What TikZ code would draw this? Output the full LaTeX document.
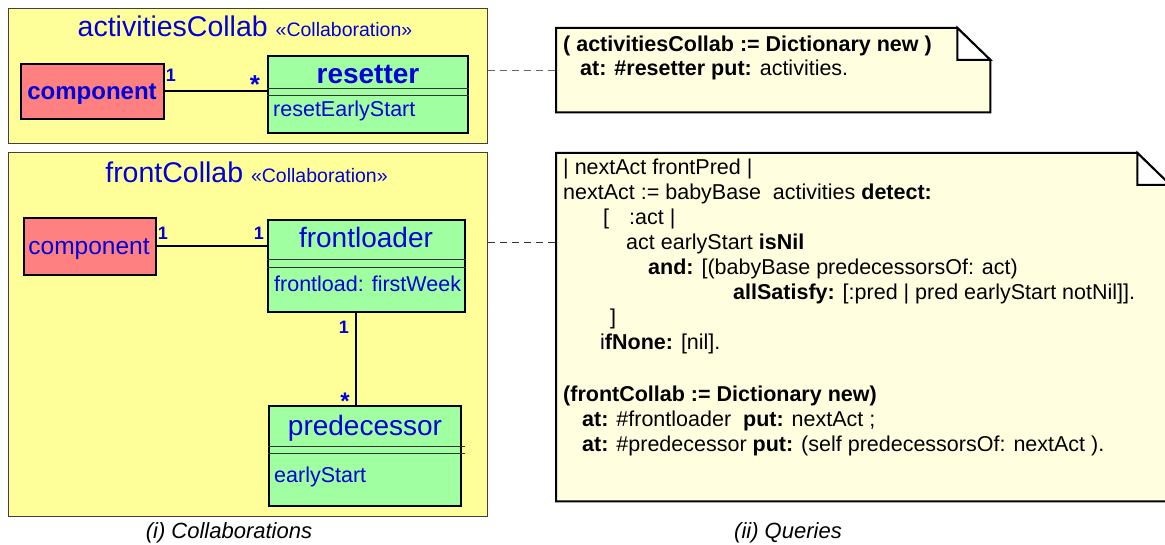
\documentclass[tikz,border=0pt]{standalone}
\usepackage{fontspec}
\setmainfont{Liberation Sans}
\usepackage{xcolor}
\usepackage{tikz}
\definecolor{pkgyellow}{HTML}{FFFF99}
\definecolor{compred}{HTML}{FF8080}
\definecolor{rolegreen}{HTML}{A0FFA0}
\definecolor{noteyellow}{HTML}{FFFFE0}
\definecolor{umlblue}{HTML}{0000D8}
\newcommand\setsz[1]{\fontsize{#1}{#1}\selectfont}
\tikzset{
package/.style={draw=black!75,fill=pkgyellow,line width=1pt,anchor=north west},
compbox/.style={draw=black,fill=compred,line width=2pt,anchor=north west},
rolebox/.style={draw=black,fill=rolegreen,line width=2pt,anchor=north west},
notebox/.style={draw=black,fill=noteyellow,line width=2pt},
sepline/.style={draw=black!80,line width=0.8pt},
pkgtitle/.style={text=umlblue,anchor=base,inner sep=0pt},
rolename/.style={text=umlblue,anchor=base,inner sep=0pt,font=\setsz{28}},
roletext/.style={text=umlblue,anchor=base west,inner sep=0pt,font=\setsz{21.5}},
mult/.style={text=umlblue,inner sep=0pt,font=\setsz{18}\bfseries},
assoc/.style={line width=2pt},
notelink/.style={draw=black!60,line width=1pt,dash pattern=on 7pt off 5pt},
codeline/.style={anchor=base west,inner sep=0pt,font=\setsz{21.5}},
caption/.style={anchor=base,inner sep=0pt,font=\setsz{22}\itshape},
}

\begin{document}
\begin{tikzpicture}[x=1pt,y=-1pt]
\useasboundingbox (0,0) rectangle (1165,545);
\clip (0,0) rectangle (1165,545);
% the collaborations
\node[package,minimum width=479pt,minimum height=135pt] (pkgA) at (8,8) {};
\node[package,minimum width=479pt,minimum height=364pt] (pkgB) at (8,152) {};
\node[pkgtitle] (titleA) at (245,37)
  {\setsz{28.5}activitiesCollab \setsz{19.5}«Collaboration»};
\node[pkgtitle] (titleB) at (246.5,183)
  {\setsz{28.5}frontCollab \setsz{19.5}«Collaboration»};

% activitiesCollab
\node[compbox,minimum width=143pt,minimum height=55pt] (compA) at (20,63) {};
\node[text=umlblue,inner sep=0pt,anchor=base,font=\setsz{24}\bfseries]
  (compAname) at (92,100) {component};
\node[rolebox,minimum width=200pt,minimum height=77pt] (resetter) at (267,55) {};
\node[rolename,font=\setsz{28}\bfseries] (resetterName) at (368,84) {resetter};
\node[roletext] (resetterOp) at (273,117) {resetEarlyStart};
\foreach \y in {33,40}
  \draw[sepline] ([yshift=-\y pt]resetter.north west) -- ([yshift=-\y pt]resetter.north east);

% frontCollab
\node[compbox,minimum width=132pt,minimum height=57pt] (compB) at (23,217) {};
\node[text=umlblue,inner sep=0pt,anchor=base,font=\setsz{24.5}]
  (compBname) at (89,255) {component};
\node[rolebox,minimum width=197pt,minimum height=92pt] (front) at (267,219) {};
\node[rolename] (frontName) at (366,248) {frontloader};
\node[roletext] (frontOp) at (274,292) {frontload: firstWeek};
\foreach \y in {40,48}
  \draw[sepline] ([yshift=-\y pt]front.north west) -- ([yshift=-\y pt]front.north east);
\node[rolebox,minimum width=192pt,minimum height=100pt] (pred) at (268,405) {};
\node[rolename] (predName) at (365,435) {predecessor};
\node[roletext] (predAttr) at (274,482) {earlyStart};
\foreach \y in {41,48}
  \draw[sepline] ([yshift=-\y pt]pred.north west) -- ([xshift=3pt,yshift=-\y pt]pred.north east);

% the associations
\draw[assoc] (compA.east) -- (compA.east -| resetter.west);
\draw[assoc] (compB.east) -- (compB.east -| front.west);
\draw[assoc] ([xshift=-10.5pt]front.south) -- ([xshift=-10.5pt]front.south |- pred.north);
\node[mult] (mA1) at (171,75) {1};
\node[mult,font=\setsz{26}\bfseries] (mA2) at (255,85) {*};
\node[mult] (mB1) at (163,233) {1};
\node[mult] (mB2) at (259,233) {1};
\node[mult] (mC1) at (344,327) {1};
\node[mult,font=\setsz{24}\bfseries] (mC2) at (345,401) {*};

% the queries
\node[anchor=north west,inner sep=0pt,minimum width=434pt,minimum height=84pt] (noteA) at (556,28) {};
\node[anchor=north west,inner sep=0pt,minimum width=614pt,minimum height=348pt] (noteB) at (556,153) {};
\foreach \n in {noteA,noteB}
{
  \draw[notebox] (\n.north west) -- ([xshift=-33pt]\n.north east)
    -- ([yshift=-32pt]\n.north east) -- (\n.south east) -- (\n.south west) -- cycle;
  \draw[notebox,fill=white] ([xshift=-33pt]\n.north east)
    -- ([xshift=-33pt,yshift=-32pt]\n.north east) -- ([yshift=-32pt]\n.north east) -- cycle;
}
\node[codeline] (qA1) at (563,52) {\textbf{( activitiesCollab := Dictionary new )}};
\node[codeline] (qA2) at (580,76) {\textbf{at: \#resetter put:} activities.};
\foreach \x/\y/\txt [count=\i] in {
  563/175/{| nextAct frontPred |},
  563/200/{nextAct := babyBase\ \ activities \textbf{detect:}},
  603/225/{[\hspace{20pt}:act |},
  626/250/{act earlyStart \textbf{isNil}},
  648/275/{\textbf{and:} [(babyBase predecessorsOf: act)},
  733/300/{\textbf{allSatisfy:} [:pred | pred earlyStart notNil]].},
  610/325/{]},
  600/350/{i\textbf{fNone:} [nil].},
  563/401/{\textbf{(frontCollab := Dictionary new)}},
  582/426/{\textbf{at:} \#frontloader\ \ \textbf{put:} nextAct ;},
  582/451/{\textbf{at:} \#predecessor \textbf{put:} (self predecessorsOf: nextAct ).}}
  \node[codeline] (qB\i) at (\x,\y) {\txt};
\coordinate (linkB) at (556,243);
\draw[notelink] (pkgA.east |- noteA.west) -- (noteA.west);
\draw[notelink,draw=black!80] (linkB -| pkgB.east) -- (linkB);

% the captions
\node[caption] (capA) at (229,538) {(i) Collaborations};
\node[caption] (capB) at (788,538) {(ii) Queries};
\end{tikzpicture}
\end{document}
